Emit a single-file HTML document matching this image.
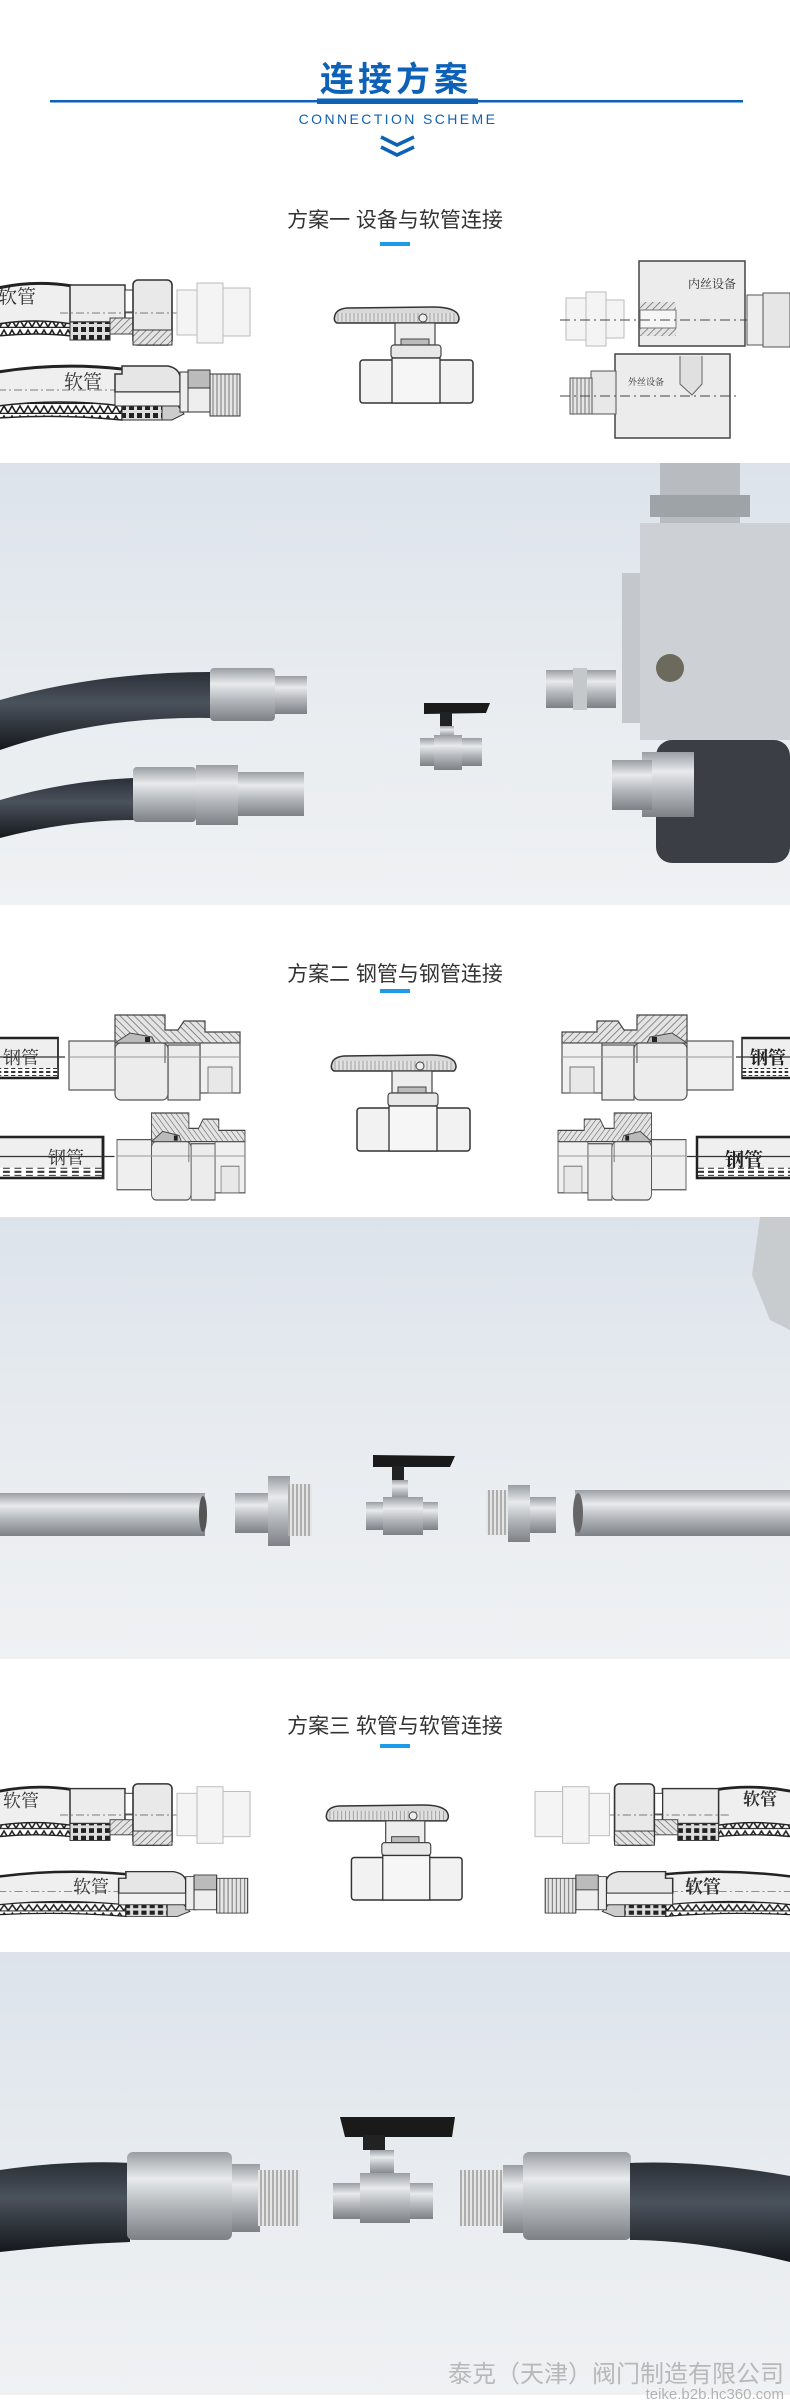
<!DOCTYPE html>
<html><head><meta charset="utf-8"><style>
html,body{margin:0;padding:0;background:#fff;}
svg{display:block;}
.cn{font-family:"Liberation Sans","Noto Sans CJK SC",sans-serif;}
.sf{font-family:"Liberation Serif","Noto Serif CJK SC",serif;}
</style></head><body>
<svg width="790" height="2401" viewBox="0 0 790 2401" xmlns="http://www.w3.org/2000/svg">
<defs>
<pattern id="hatch" width="5" height="5" patternUnits="userSpaceOnUse" patternTransform="rotate(45)"><rect width="5" height="5" fill="#e4e4e4"/><line x1="0" y1="0" x2="0" y2="5" stroke="#666" stroke-width="1.4"/></pattern>
<pattern id="thr" width="4" height="10" patternUnits="userSpaceOnUse"><rect width="4" height="10" fill="#e6e6e6"/><line x1="1" y1="0" x2="1" y2="10" stroke="#777" stroke-width="1"/></pattern>
<pattern id="zig" width="8" height="10" patternUnits="userSpaceOnUse"><rect width="8" height="10" fill="#fff"/><path d="M0,9 L4,2 L8,9" fill="none" stroke="#222" stroke-width="1.6"/><line x1="0" y1="9.5" x2="8" y2="9.5" stroke="#222" stroke-width="1.5"/></pattern>
<pattern id="crimp" width="8" height="8" patternUnits="userSpaceOnUse"><rect width="8" height="8" fill="#ddd"/><rect x="1" y="1" width="5" height="5" fill="#222"/></pattern>
<pattern id="dash" width="10" height="4" patternUnits="userSpaceOnUse"><rect width="10" height="4" fill="#fff"/><rect x="1" y="1" width="6" height="2" fill="#333"/></pattern>
<linearGradient id="bg" x1="0" y1="0" x2="0" y2="1"><stop offset="0" stop-color="#dce3eb"/><stop offset="0.5" stop-color="#e8ecf0"/><stop offset="1" stop-color="#eff1f3"/></linearGradient>
<linearGradient id="steel" x1="0" y1="0" x2="0" y2="1"><stop offset="0" stop-color="#9a9ea3"/><stop offset="0.3" stop-color="#e8eaec"/><stop offset="0.6" stop-color="#b5b9bd"/><stop offset="1" stop-color="#7d8186"/></linearGradient>
<linearGradient id="hose" x1="0" y1="0" x2="0" y2="1"><stop offset="0" stop-color="#2a3038"/><stop offset="0.4" stop-color="#4a525c"/><stop offset="1" stop-color="#15181c"/></linearGradient>

<symbol id="valve" viewBox="0 0 143 96" overflow="visible" preserveAspectRatio="none">
<path d="M2,8 Q4,2 14,1 L100,0 Q118,0 124,6 Q128,12 124,16 L4,16 Q0,14 2,8Z" fill="#d9d9d9" stroke="#333" stroke-width="1.5"/>
<rect x="4" y="6" width="118" height="9" fill="url(#thr)" opacity="0.6"/>
<circle cx="90" cy="11" r="4" fill="#eee" stroke="#444"/>
<rect x="62" y="16" width="40" height="22" fill="#eee" stroke="#444" stroke-width="1.2"/>
<rect x="68" y="32" width="28" height="6" fill="#bbb" stroke="#444"/>
<rect x="58" y="38" width="50" height="13" rx="3" fill="#e8e8e8" stroke="#444" stroke-width="1.2"/>
<rect x="27" y="53" width="113" height="43" rx="3" fill="#f2f2f2" stroke="#333" stroke-width="1.5"/>
<rect x="59" y="51" width="48" height="45" fill="#f6f6f6" stroke="#333" stroke-width="1.3"/>
</symbol>

<symbol id="hoseA" viewBox="0 0 250 70" overflow="visible" preserveAspectRatio="none">
<path d="M-2,10 Q35,2 72,8 L72,58 Q35,48 -2,52Z" fill="#efefef"/>
<path d="M-2,10 Q35,2 72,8" fill="none" stroke="#222" stroke-width="3"/>
<path d="M-2,46 Q35,40 72,46 L72,58 Q35,54 -2,58Z" fill="url(#zig)" stroke="#222" stroke-width="1.5"/>
<rect x="70" y="7" width="55" height="37" fill="#ececec" stroke="#333" stroke-width="1.5"/>
<rect x="70" y="44" width="40" height="18" fill="url(#crimp)" stroke="#333"/>
<rect x="110" y="40" width="23" height="16" fill="url(#hatch)" stroke="#444"/>
<rect x="125" y="12" width="8" height="22" fill="#fff" stroke="#333"/>
<rect x="133" y="2" width="39" height="65" rx="5" fill="#e9e9e9" stroke="#333" stroke-width="1.6"/>
<rect x="133" y="52" width="39" height="15" fill="url(#hatch)" stroke="#333"/>
<line x1="60" y1="35" x2="250" y2="35" stroke="#555" stroke-width="0.8" stroke-dasharray="8,3,2,3"/>
<rect x="177" y="12" width="20" height="45" fill="#f4f4f4" stroke="#bbb"/>
<rect x="197" y="5" width="26" height="60" fill="#f4f4f4" stroke="#bbb"/>
<rect x="223" y="10" width="27" height="48" fill="#f4f4f4" stroke="#bbb"/>
</symbol>

<symbol id="hoseB" viewBox="0 0 250 70" overflow="visible" preserveAspectRatio="none">
<path d="M-2,8 Q60,-2 122,5 L122,52 Q60,40 -2,46Z" fill="#efefef"/>
<path d="M-2,8 Q60,-2 122,5" fill="none" stroke="#222" stroke-width="3"/>
<path d="M-2,42 Q60,34 122,42 L122,56 Q60,50 -2,54Z" fill="url(#zig)" stroke="#222" stroke-width="1.5"/>
<line x1="-2" y1="26" x2="240" y2="26" stroke="#555" stroke-width="0.8" stroke-dasharray="8,3,2,3"/>
<path d="M115,28 L115,10 L122,10 L122,2 L168,2 Q178,4 180,12 L180,28Z" fill="#e6e6e6" stroke="#333" stroke-width="1.5"/>
<rect x="115" y="28" width="65" height="14" fill="#f2f2f2" stroke="#333"/>
<rect x="122" y="42" width="40" height="14" fill="url(#crimp)" stroke="#333"/>
<path d="M162,42 L178,42 L184,50 L172,56 L162,56Z" fill="#ccc" stroke="#333"/>
<rect x="180" y="8" width="10" height="40" fill="#eee" stroke="#333"/>
<rect x="188" y="6" width="22" height="18" fill="#bbb" stroke="#333"/>
<rect x="188" y="24" width="22" height="24" fill="#eee" stroke="#333"/>
<rect x="210" y="10" width="30" height="42" fill="url(#thr)" stroke="#333"/>
</symbol>

<symbol id="steelF" viewBox="0 0 171 85" overflow="visible" preserveAspectRatio="none">
<path d="M0,28 L0,17 L35,17 L35,6 L56,6 L62,15 L75,15 L75,0 L125,0 L125,28Z" fill="url(#hatch)" stroke="#444" stroke-width="1.2"/>
<path d="M85,28 L88,22 L110,18 L125,28Z" fill="#bbb" stroke="#444"/>
<rect x="90" y="22" width="5" height="5" fill="#222"/>
<rect x="0" y="28" width="40" height="50" fill="#f0f0f0" stroke="#555" stroke-width="1.2"/>
<rect x="8" y="52" width="24" height="26" fill="#e8e8e8" stroke="#777"/>
<rect x="40" y="30" width="32" height="55" fill="#ececec" stroke="#555" stroke-width="1.2"/>
<rect x="72" y="28" width="53" height="57" rx="6" fill="#ececec" stroke="#555" stroke-width="1.2"/>
<rect x="125" y="26" width="46" height="49" fill="#efefef" stroke="#555" stroke-width="1.2"/>
<line x1="0" y1="42" x2="171" y2="42" stroke="#999" stroke-width="1"/>
<line x1="75" y1="28" x2="75" y2="48" stroke="#555"/>
</symbol>

<symbol id="pipe" viewBox="0 0 100 40" overflow="visible" preserveAspectRatio="none">
<rect x="0" y="0" width="100" height="40" fill="#efefef" stroke="#222" stroke-width="2.5"/>
<rect x="1" y="30" width="98" height="8" fill="url(#dash)"/>
<line x1="-10" y1="19" x2="100" y2="19" stroke="#333" stroke-width="1.2"/>
</symbol>
</defs>

<rect width="790" height="2401" fill="#fff"/>

<!-- Header -->
<text x="396" y="91" text-anchor="middle" class="cn" font-size="34" font-weight="bold" fill="#0d62b8" letter-spacing="4">连接方案</text>
<rect x="50" y="100" width="693" height="2.5" fill="#0d62b8"/>
<rect x="317" y="98.5" width="161" height="5.5" fill="#0d62b8"/>
<text x="398" y="124" text-anchor="middle" class="cn" font-size="14" fill="#0d62b8" letter-spacing="2.4">CONNECTION SCHEME</text>
<path d="M381,137 L397,145 L414,137" fill="none" stroke="#0d62b8" stroke-width="3.5"/>
<path d="M381,147 L397,155 L414,147" fill="none" stroke="#0d62b8" stroke-width="3.5"/>

<!-- Section 1 -->
<text x="395" y="227" text-anchor="middle" class="cn" font-size="21" fill="#333">方案一 设备与软管连接</text>
<rect x="380" y="242" width="30" height="4" fill="#1e9be8"/>

<use href="#hoseA" x="0" y="278" width="250" height="70"/>
<text x="-2" y="303" class="sf" font-size="19" fill="#333">软管</text>
<use href="#hoseB" x="0" y="364" width="250" height="70"/>
<text x="64" y="388" class="sf" font-size="19" fill="#333">软管</text>

<use href="#valve" x="333" y="307" width="143" height="96"/>

<!-- right device -->
<rect x="566" y="298" width="20" height="42" fill="#f4f4f4" stroke="#bbb"/>
<rect x="586" y="292" width="20" height="54" fill="#f4f4f4" stroke="#bbb"/>
<rect x="606" y="300" width="18" height="38" fill="#f4f4f4" stroke="#bbb"/>
<rect x="639" y="261" width="106" height="85" fill="#ececec" stroke="#444" stroke-width="1.5"/>
<rect x="640" y="302" width="36" height="8" fill="url(#hatch)"/>
<rect x="640" y="328" width="36" height="8" fill="url(#hatch)"/>
<rect x="640" y="310" width="36" height="18" fill="#f6f6f6" stroke="#777"/>
<line x1="560" y1="320" x2="790" y2="320" stroke="#444" stroke-dasharray="10,4,2,4"/>
<text x="688" y="288" class="sf" font-size="12" fill="#333">内丝设备</text>
<rect x="747" y="295" width="43" height="50" fill="#eee" stroke="#555"/>
<rect x="763" y="293" width="27" height="54" fill="#e6e6e6" stroke="#555"/>
<rect x="615" y="354" width="115" height="84" fill="#ececec" stroke="#444" stroke-width="1.5"/>
<path d="M680,356 L680,384 L692,395 L702,384 L702,356" fill="#e0e0e0" stroke="#666"/>
<text x="628" y="385" class="sf" font-size="9" fill="#333">外丝设备</text>
<rect x="591" y="371" width="25" height="43" fill="#e8e8e8" stroke="#555"/>
<rect x="570" y="378" width="22" height="36" fill="url(#thr)" stroke="#555"/>
<line x1="560" y1="396" x2="740" y2="396" stroke="#444" stroke-dasharray="10,4,2,4"/>

<!-- Photo 1 -->
<rect x="0" y="463" width="790" height="442" fill="url(#bg)"/>
<path d="M0,700 Q100,672 210,672 L210,718 Q100,716 0,750Z" fill="url(#hose)"/>
<rect x="210" y="668" width="65" height="53" rx="4" fill="url(#steel)"/>
<rect x="275" y="676" width="32" height="38" fill="url(#steel)"/>
<path d="M0,800 Q70,780 135,778 L135,820 Q70,820 0,838Z" fill="url(#hose)"/>
<rect x="133" y="767" width="63" height="55" rx="4" fill="url(#steel)"/>
<rect x="196" y="765" width="42" height="60" fill="url(#steel)"/>
<rect x="238" y="772" width="66" height="44" fill="url(#steel)"/>
<path d="M424,703 L490,703 L486,713 L424,714Z" fill="#1a1a1a"/>
<rect x="440" y="712" width="12" height="16" fill="#222"/>
<rect x="440" y="726" width="14" height="12" fill="url(#steel)"/>
<rect x="420" y="738" width="62" height="28" fill="url(#steel)"/>
<rect x="434" y="735" width="28" height="35" fill="url(#steel)"/>
<rect x="546" y="670" width="70" height="38" fill="url(#steel)"/>
<rect x="573" y="668" width="14" height="42" fill="#c5c8cb"/>
<rect x="660" y="463" width="80" height="60" fill="#b8bcc0"/>
<rect x="650" y="495" width="100" height="22" fill="#9ea3a8"/>
<rect x="622" y="573" width="20" height="150" fill="#c4c8cc"/>
<rect x="640" y="523" width="150" height="217" fill="#cdd1d5"/>
<circle cx="670" cy="668" r="14" fill="#6b6a5c"/>
<rect x="656" y="740" width="134" height="123" rx="16" fill="#3b3f45"/>
<rect x="642" y="752" width="52" height="65" fill="url(#steel)"/>
<rect x="612" y="760" width="40" height="50" fill="url(#steel)"/>

<!-- Section 2 -->
<text x="395" y="981" text-anchor="middle" class="cn" font-size="21" fill="#333">方案二 钢管与钢管连接</text>
<rect x="380" y="989" width="30" height="4" fill="#1e9be8"/>

<g transform="translate(240,1015) scale(-1,1)"><use href="#steelF" x="0" y="0" width="171" height="85"/></g>
<g transform="translate(58,1038) scale(-1,1)"><use href="#pipe" x="0" y="0" width="70" height="40"/></g>
<text x="3" y="1064" class="sf" font-size="18" fill="#333">钢管</text>
<g transform="translate(245,1113) scale(-1,1)"><use href="#steelF" x="0" y="0" width="128" height="87"/></g>
<g transform="translate(103,1137) scale(-1,1)"><use href="#pipe" x="0" y="0" width="115" height="41"/></g>
<text x="48" y="1164" class="sf" font-size="18" fill="#333">钢管</text>

<use href="#valve" x="330" y="1055" width="143" height="96"/>

<use href="#steelF" x="562" y="1015" width="171" height="85"/>
<use href="#pipe" x="742" y="1038" width="60" height="40"/>
<text x="750" y="1064" class="sf" font-size="18" font-weight="bold" fill="#222">钢管</text>
<use href="#steelF" x="558" y="1113" width="128" height="87"/>
<use href="#pipe" x="697" y="1137" width="100" height="41"/>
<text x="725" y="1166" class="sf" font-size="19" font-weight="bold" fill="#222">钢管</text>

<!-- Photo 2 -->
<rect x="0" y="1217" width="790" height="442" fill="url(#bg)"/>
<rect x="0" y="1493" width="205" height="43" fill="url(#steel)"/>
<ellipse cx="203" cy="1514" rx="4" ry="18" fill="#555"/>
<rect x="235" y="1493" width="36" height="40" fill="url(#steel)"/>
<rect x="268" y="1476" width="22" height="70" fill="url(#steel)"/>
<rect x="288" y="1484" width="24" height="52" fill="url(#thr)"/>
<path d="M373,1455 L455,1456 L450,1467 L373,1467Z" fill="#1a1a1a"/>
<rect x="392" y="1466" width="12" height="15" fill="#222"/>
<rect x="392" y="1480" width="16" height="20" fill="url(#steel)"/>
<rect x="366" y="1502" width="72" height="28" fill="url(#steel)"/>
<rect x="383" y="1497" width="40" height="38" fill="url(#steel)"/>
<rect x="486" y="1490" width="25" height="45" fill="url(#thr)"/>
<rect x="508" y="1485" width="22" height="57" fill="url(#steel)"/>
<rect x="530" y="1497" width="26" height="36" fill="url(#steel)"/>
<rect x="575" y="1490" width="215" height="46" fill="url(#steel)"/>
<ellipse cx="578" cy="1513" rx="5" ry="20" fill="#666"/>
<path d="M760,1217 L790,1217 L790,1330 L770,1320 L752,1275Z" fill="#c9cccf"/>

<!-- Section 3 -->
<text x="395" y="1733" text-anchor="middle" class="cn" font-size="21" fill="#333">方案三 软管与软管连接</text>
<rect x="380" y="1744" width="30" height="4" fill="#1e9be8"/>

<use href="#hoseA" x="0" y="1782" width="250" height="66"/>
<text x="3" y="1807" class="sf" font-size="18" fill="#333">软管</text>
<use href="#hoseB" x="0" y="1870" width="258" height="58"/>
<text x="73" y="1893" class="sf" font-size="18" fill="#333">软管</text>

<use href="#valve" x="325" y="1805" width="140" height="95"/>

<g transform="translate(790,1782) scale(-1,1)"><use href="#hoseA" x="0" y="0" width="255" height="66"/></g>
<text x="743" y="1805" class="sf" font-size="17" font-weight="bold" fill="#333">软管</text>
<g transform="translate(790,1870) scale(-1,1)"><use href="#hoseB" x="0" y="0" width="255" height="58"/></g>
<text x="685" y="1893" class="sf" font-size="18" font-weight="bold" fill="#333">软管</text>

<!-- Photo 3 -->
<rect x="0" y="1952" width="790" height="443" fill="url(#bg)"/>
<path d="M0,2170 Q70,2160 130,2163 L130,2242 Q70,2244 0,2252Z" fill="url(#hose)"/>
<rect x="127" y="2152" width="105" height="88" rx="6" fill="url(#steel)"/>
<rect x="232" y="2164" width="28" height="68" fill="url(#steel)"/>
<rect x="258" y="2170" width="42" height="56" fill="url(#thr)"/>
<path d="M340,2117 L455,2117 L452,2137 L345,2137Z" fill="#1a1a1a"/>
<rect x="363" y="2135" width="22" height="15" fill="#222"/>
<rect x="370" y="2150" width="24" height="25" fill="url(#steel)"/>
<rect x="333" y="2183" width="100" height="36" fill="url(#steel)"/>
<rect x="360" y="2173" width="50" height="50" fill="url(#steel)"/>
<rect x="460" y="2170" width="45" height="56" fill="url(#thr)"/>
<rect x="503" y="2165" width="27" height="68" fill="url(#steel)"/>
<rect x="523" y="2152" width="108" height="88" rx="6" fill="url(#steel)"/>
<path d="M630,2163 Q700,2160 790,2176 L790,2262 Q700,2240 630,2240Z" fill="url(#hose)"/>
<text x="784" y="2382" text-anchor="end" class="cn" font-size="24" fill="#b3b3b3" opacity="0.9">泰克（天津）阀门制造有限公司</text>
<text x="784" y="2399" text-anchor="end" class="cn" font-size="15" fill="#b3b3b3">teike.b2b.hc360.com</text>
</svg>
</body></html>
